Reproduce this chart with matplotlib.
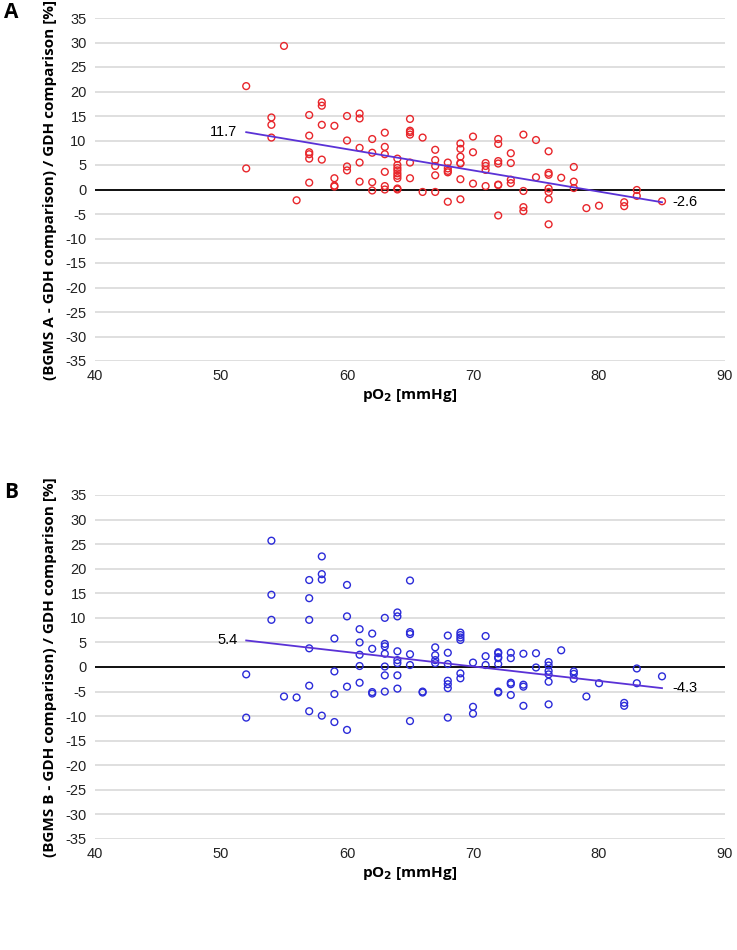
import matplotlib
matplotlib.use("Agg")
import matplotlib.pyplot as plt
import numpy as np

# Panel A data (pO2 [mmHg], difference [%])
a_x = [52, 52, 54, 54, 54, 55, 56, 57, 57, 57, 57, 57, 57, 58, 58, 58, 58,
       59, 59, 59, 59, 60, 60, 60, 60, 61, 61, 61, 61, 61, 62, 62, 62, 62,
       63, 63, 63, 63, 63, 63, 64, 64, 64, 64, 64, 64, 64, 64, 64,
       65, 65, 65, 65, 65, 65, 66, 66, 67, 67, 67, 67, 67,
       68, 68, 68, 68, 68, 69, 69, 69, 69, 69, 69, 69, 70, 70, 70,
       71, 71, 71, 71, 72, 72, 72, 72, 72, 72, 72, 73, 73, 73, 73,
       74, 74, 74, 74, 75, 75, 76, 76, 76, 76, 76, 76, 76, 77,
       78, 78, 78, 79, 80, 82, 82, 83, 83, 85]
a_y = [21.1, 4.3, 14.7, 13.2, 10.6, 29.3, -2.2, 15.2, 11.0, 7.6, 7.2, 6.3, 1.4,
       17.8, 17.1, 13.2, 6.1, 13.0, 2.3, 0.8, 0.6, 15.0, 10.0, 4.7, 3.9,
       15.5, 14.5, 8.5, 5.5, 1.6, 10.3, 7.5, 1.5, -0.2,
       11.6, 8.7, 7.2, 3.6, 0.7, 0.0, 6.3, 5.0, 4.4, 3.9, 3.3, 2.8, 2.3, 0.2, 0.0,
       14.4, 12.0, 11.7, 11.2, 5.5, 2.3, 10.6, -0.5, 8.1, 6.0, 4.8, 2.9, -0.5,
       5.5, 4.3, 3.8, 3.5, -2.5, 9.4, 8.3, 6.7, 5.4, 5.3, 2.1, -2.0, 10.8, 7.6, 1.2,
       5.4, 4.8, 4.0, 0.7, 10.3, 9.3, 5.8, 5.3, 1.0, 0.9, -5.3, 7.4, 5.4, 2.0, 1.3,
       11.2, -0.3, -3.6, -4.4, 10.1, 2.5, 7.8, 3.4, 3.0, 0.2, -0.5, -2.0, -7.1, 2.4,
       4.6, 1.6, 0.3, -3.8, -3.3, -2.6, -3.4, -0.1, -1.3, -2.4]
a_trend_x = [52, 85]
a_trend_y = [11.7, -2.6]

# Panel B data
b_x = [52, 52, 54, 54, 54, 55, 56, 57, 57, 57, 57, 57, 57, 58, 58, 58, 58,
       59, 59, 59, 59, 60, 60, 60, 60, 61, 61, 61, 61, 61, 62, 62, 62, 62,
       63, 63, 63, 63, 63, 63, 63, 64, 64, 64, 64, 64, 64, 64,
       65, 65, 65, 65, 65, 65, 66, 66, 67, 67, 67, 67,
       68, 68, 68, 68, 68, 68, 68, 69, 69, 69, 69, 69, 69, 70, 70, 70,
       71, 71, 71, 72, 72, 72, 72, 72, 72, 72, 73, 73, 73, 73, 73,
       74, 74, 74, 74, 75, 75, 76, 76, 76, 76, 76, 76, 77,
       78, 78, 78, 79, 80, 82, 82, 83, 83, 85]
b_y = [-1.5, -10.3, 25.7, 14.7, 9.6, -6.0, -6.2, 17.7, 14.0, 9.6, 3.8, -3.8, -9.0,
       22.5, 18.9, 17.8, -9.9, 5.8, -0.9, -5.5, -11.2, 16.7, 10.3, -4.0, -12.8,
       7.7, 5.0, 2.5, 0.2, -3.2, 6.8, 3.7, -5.1, -5.4,
       10.0, 4.7, 4.2, 2.7, 0.1, -1.7, -5.0, 11.1, 10.3, 3.2, 1.4, 0.8, -1.7, -4.4,
       17.6, 7.1, 6.7, 2.6, 0.4, -11.0, -5.0, -5.2, 4.0, 2.4, 1.4, 0.8,
       6.4, 2.9, 0.6, -2.8, -3.5, -4.3, -10.3, 7.0, 6.5, 6.0, 5.5, -1.3, -2.3,
       0.9, -8.1, -9.5, 6.3, 2.2, 0.4, 3.0, 2.8, 2.0, 1.8, 0.6, -5.0, -5.2,
       2.9, 1.8, -3.2, -3.5, -5.7, 2.7, -3.6, -4.0, -7.9, 2.8, -0.1,
       1.0, 0.3, -0.8, -1.5, -3.0, -7.6, 3.4, -0.9, -1.4, -2.4, -6.0, -3.3,
       -7.3, -7.9, -0.3, -3.3, -1.9]
b_trend_x = [52, 85]
b_trend_y = [5.4, -4.3]

x_ticks = [40, 50, 60, 70, 80, 90]
y_ticks = list(range(-35, 40, 5))

plt.rcParams['font.family'] = ['Liberation Sans', 'DejaVu Sans']
plt.rcParams['axes.unicode_minus'] = False

fig = plt.figure(figsize=(7.37, 9.5), dpi=100)
W, H = 737, 950

def make_panel(top_px, bottom_px, xs, ys, tx, ty, color, ylabel, letter, letter_y):
    ax = fig.add_axes([95 / W, 1 - bottom_px / H, 630 / W, (bottom_px - top_px) / H])
    ax.set_xlim(40, 90)
    ax.set_ylim(-35, 35)
    ax.set_xticks(x_ticks)
    ax.set_yticks(y_ticks)
    for s in ax.spines.values():
        s.set_visible(False)
    ax.yaxis.grid(True, color='#d9d9d9', linewidth=1.2)
    ax.set_axisbelow(True)
    ax.tick_params(length=0, labelsize=10.5, pad=6, colors='#222222')
    ax.axhline(0, color='black', linewidth=1.3, zorder=2)
    ax.scatter(xs, ys, s=24, facecolors='none', edgecolors=color, linewidths=1.0, zorder=3)
    ax.plot(tx, ty, color='#5a32d6', linewidth=1.3, zorder=4)
    ax.text(tx[0] - 0.7, ty[0], f"{ty[0]:.1f}", ha='right', va='center', fontsize=10.5)
    ax.text(tx[1] + 0.8, ty[1], f"{ty[1]:.1f}", ha='left', va='center', fontsize=10.5)
    ax.set_xlabel('pO$_\\mathbf{2}$ [mmHg]', fontsize=11, fontweight='bold', family='Open Sans', labelpad=3)
    ax.set_ylabel(ylabel, fontsize=11, fontweight='bold', family='Open Sans', labelpad=6)
    fig.text(4 / W, 1 - letter_y / H, letter, fontsize=15, fontweight='bold',
             family='Open Sans', ha='left', va='center')
    return ax

make_panel(18, 361, a_x, a_y, a_trend_x, a_trend_y, '#e8262b',
           '(BGMS A - GDH comparison) / GDH comparison [%]', 'A', 12)
make_panel(495, 839, b_x, b_y, b_trend_x, b_trend_y, '#2b2bd9',
           '(BGMS B - GDH comparison) / GDH comparison [%]', 'B', 492)

fig.savefig('out.png', dpi=100, facecolor='white')
